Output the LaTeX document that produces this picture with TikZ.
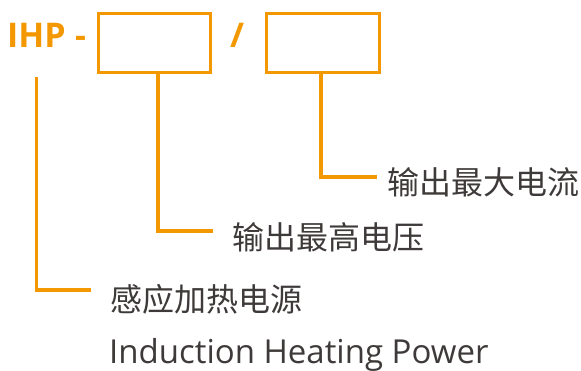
\documentclass[tikz,border=0pt]{standalone}
\usepackage{fontspec}
\setmainfont{Open Sans}
\newfontfamily\cjk{Noto Sans CJK SC}
\definecolor{ihporange}{HTML}{F39800}
\definecolor{ihpgray}{HTML}{3E3A39}
\begin{document}
\begin{tikzpicture}[x=1pt, y=-1pt,
	box/.style={draw=ihporange, line width=3.3pt, minimum width=#1, minimum height=58.7pt, inner sep=0pt},
	conn/.style={draw=ihporange, line width=3.3pt},
	lbl/.style={text=ihpgray, font=\cjk\fontsize{32}{38}\selectfont, inner sep=0pt, anchor=west},
	code/.style={text=ihporange, font=\bfseries\fontsize{34}{40}\selectfont, inner sep=0pt, anchor=base west}]
	\useasboundingbox (0,0) rectangle (581,371);
	% model code
	\node[code] (ihp) at (7,48) {IHP};
	\node[code] (dash) at (ihp.base east) {\ -};
	\node[box=111.7pt] (volt) at (154.5,43) {};
	\node[code] (slash) at (230,48) {/};
	\node[box=112.7pt] (amp) at (323,43) {};
	% labels
	\node[lbl] (tamp) at (387,182) {输出最大电流};
	\node[lbl] (tvolt) at (232,237) {输出最高电压};
	\node[lbl] (tihp) at (110,299) {感应加热电源};
	\node[text=ihpgray, font=\fontsize{33}{40}\selectfont, inner sep=0pt, anchor=base west] (teng) at (109,363) {Induction Heating Power};
	% leaders
	\coordinate (kamp) at (377,177);
	\coordinate (kvolt) at (213,231);
	\coordinate (kihp) at (91,290);
	\draw[conn] ([xshift=-2pt]amp.south) |- (kamp);
	\draw[conn] ([xshift=3.5pt]volt.south) |- (kvolt);
	\draw[conn] ([yshift=-29pt]ihp.base) |- (kihp);
\end{tikzpicture}
\end{document}
